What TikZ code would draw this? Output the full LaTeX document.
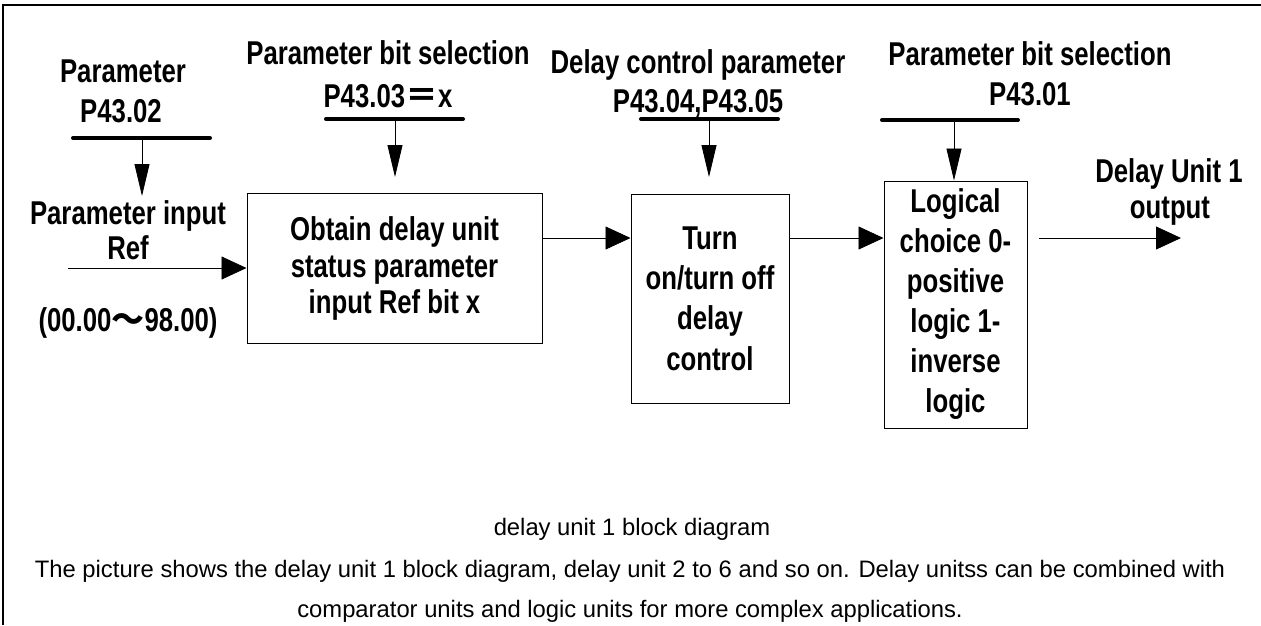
\documentclass[tikz,border=0pt]{standalone}
\usepackage{fontspec}
\setmainfont{Liberation Sans}
\newfontfamily\nb[FakeStretch=0.78]{Liberation Sans}
\newfontfamily\cjk{Noto Sans CJK SC}
\usetikzlibrary{arrows.meta}
\begin{document}
\begin{tikzpicture}[x=1pt,y=-1pt,
  lbl/.style={anchor=base,inner sep=0pt,font=\nb\bfseries\fontsize{33}{38}\selectfont},
  captxt/.style={anchor=base,inner sep=0pt,font=\fontsize{23.8}{28}\selectfont},
  blk/.style={draw,line width=1pt,inner sep=0pt,align=center},
  bar/.style={line width=4pt,line cap=round},
  varr/.style={line width=0.8pt,-{Triangle[length=32pt,width=15pt]}},
  harr/.style={line width=0.8pt,-{Triangle[length=25pt,width=23pt]}}]
\useasboundingbox (0,0) rectangle (1261,625);
% frame
\draw[line width=2.5pt] (3,625) -- (3,5) -- (1261,5);
% blocks
\node[blk,minimum width=295pt,minimum height=150pt,
  font=\nb\bfseries\fontsize{33}{36.5}\selectfont] (b1) at (394.5,268.5)
  {Obtain delay unit\\status parameter\\input Ref bit x};
\node[blk,minimum width=158pt,minimum height=209pt,
  font=\nb\bfseries\fontsize{33}{40.3}\selectfont] (b2) at (710,298.5)
  {Turn\\on/turn off\\delay\\control};
\node[blk,minimum width=143pt,minimum height=247pt,
  font=\nb\bfseries\fontsize{33}{40}\selectfont] (b3) at (955.5,304.5)
  {Logical\\choice 0-\\positive\\logic 1-\\inverse\\logic};
% top labels
\node[lbl] (t1a) at (123,82) {Parameter};
\node[lbl] (t1b) at (121,122) {P43.02};
\node[lbl] (t2a) at (388,64) {Parameter bit selection};
\node[lbl] (t2b) at (388,107) {P43.03{\cjk\bfseries ＝}x};
\node[lbl] (t3a) at (698,73) {Delay control parameter};
\node[lbl] (t3b) at (698,112) {P43.04,P43.05};
\node[lbl] (t4a) at (1030,65) {Parameter bit selection};
\node[lbl] (t4b) at (1030,105) {P43.01};
% input labels
\node[lbl] (i1) at (128,224) {Parameter input};
\node[lbl] (i2) at (128,259) {Ref};
\node[lbl] (i3) at (128,331) {(00.00{\cjk ～}98.00)};
% output labels
\node[lbl] (o1) at (1169,182) {Delay Unit 1};
\node[lbl] (o2) at (1170,218) {output};
% bars
\coordinate (p1l) at (73,138); \coordinate (p1r) at (210,138);
\coordinate (p2l) at (326,119); \coordinate (p2r) at (463,119);
\coordinate (p3l) at (641,119); \coordinate (p3r) at (778,119);
\coordinate (p4l) at (882,120); \coordinate (p4r) at (1018,120);
\draw[bar] (p1l) -- (p1r);
\draw[bar] (p2l) -- (p2r);
\draw[bar] (p3l) -- (p3r);
\draw[bar] (p4l) -- (p4r);
% vertical arrows
\coordinate (v1s) at (142,138); \coordinate (v1e) at (142,196);
\coordinate (v2s) at (395,119); \coordinate (v2e) at (395,177);
\coordinate (v3s) at (709,119); \coordinate (v3e) at (709,177);
\coordinate (v4s) at (954,120);
\draw[varr] (v1s) -- (v1e);
\draw[varr] (v2s) -- (v2e);
\draw[varr] (v3s) -- (v3e);
\draw[varr] (v4s) -- (v4s |- b3.north);
% horizontal arrows
\coordinate (in) at (68,268);
\draw[harr] (in) -- (in -| b1.west);
\coordinate (h1) at (542,238);
\draw[harr] (h1 -| b1.east) -- (h1 -| b2.west);
\draw[harr] (h1 -| b2.east) -- (h1 -| b3.west);
\coordinate (os) at (1039,238); \coordinate (oe) at (1181,238);
\draw[harr] (os) -- (oe);
% captions
\node[captxt] (c1) at (632,535) {delay unit 1 block diagram};
\node[captxt] (c2) at (630,577) {The picture shows the delay unit 1 block diagram, delay unit 2 to 6 and so on. Delay unitss can be combined with};
\node[captxt] (c3) at (630,617) {comparator units and logic units for more complex applications.};
\end{tikzpicture}
\end{document}
